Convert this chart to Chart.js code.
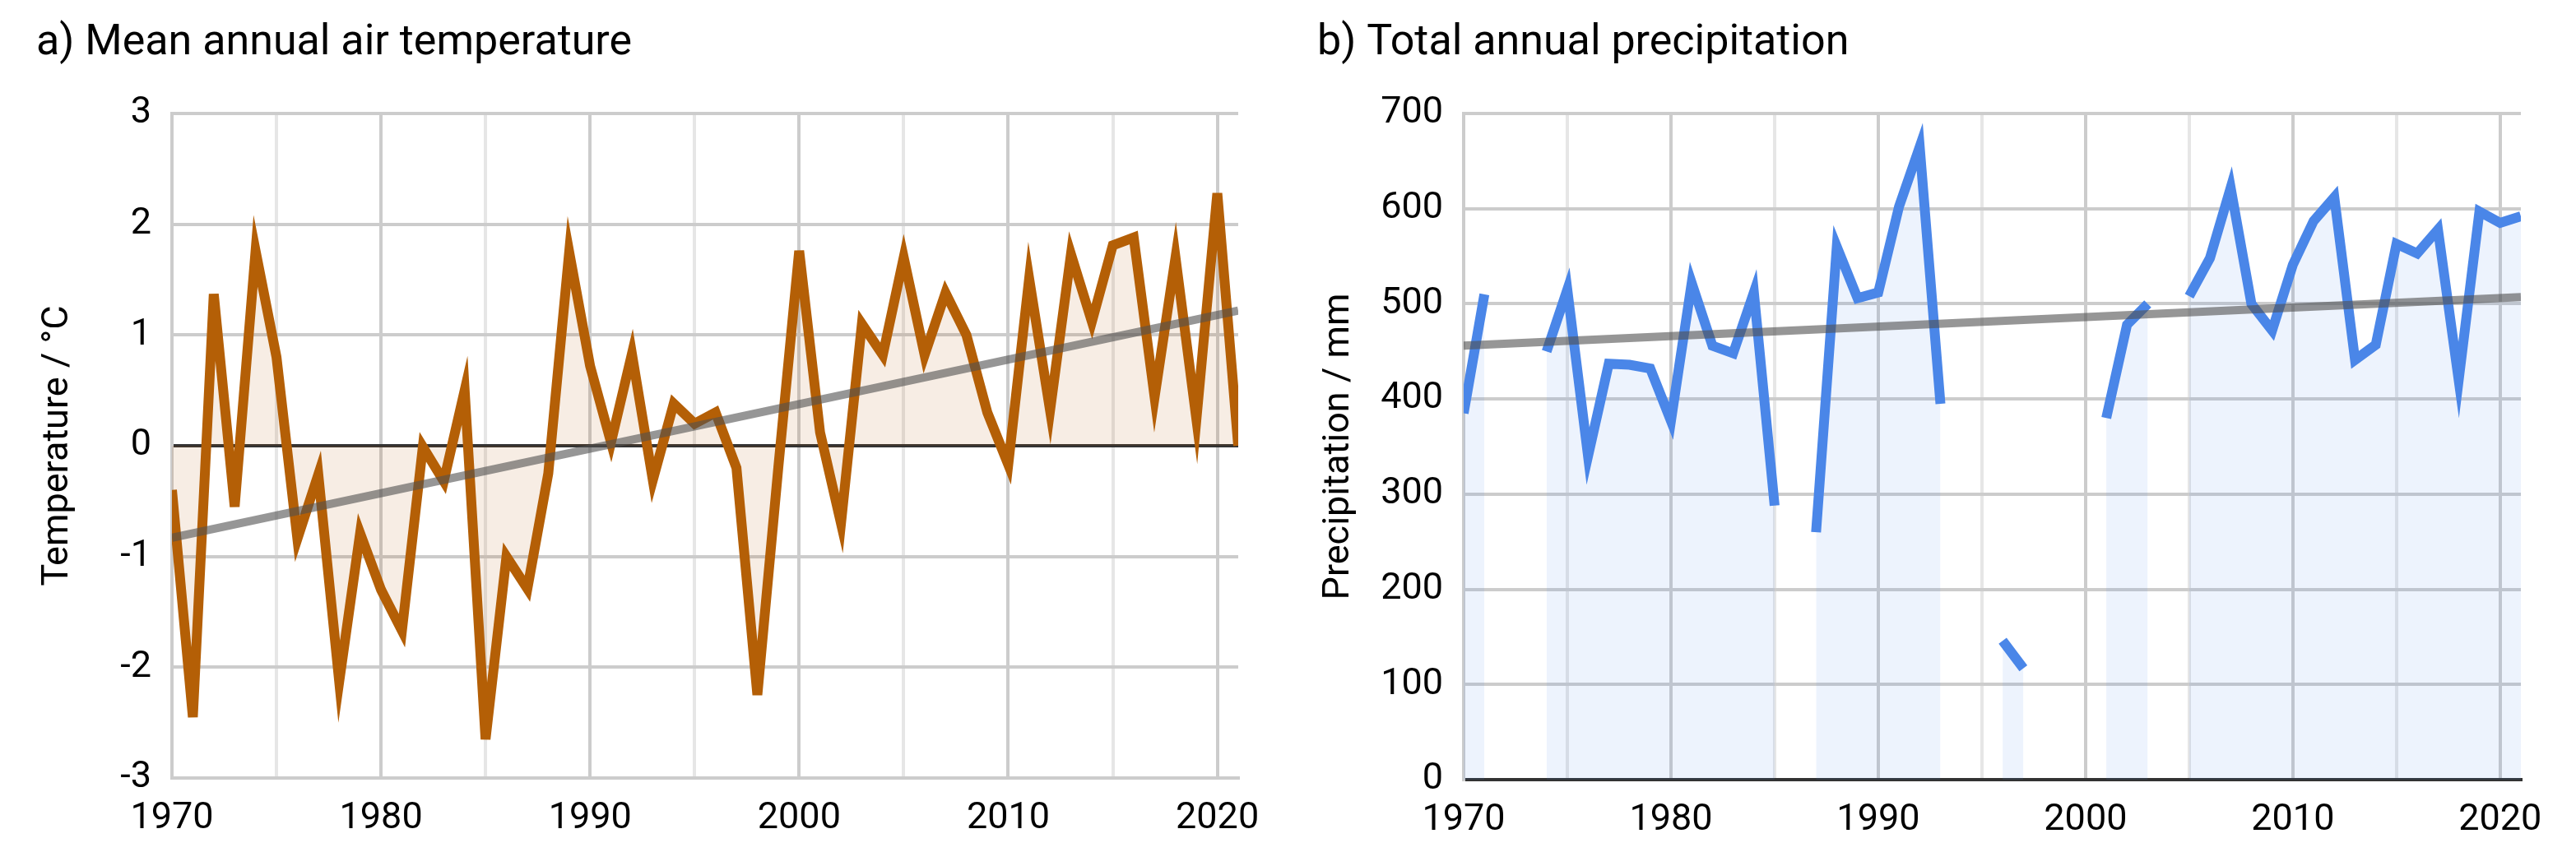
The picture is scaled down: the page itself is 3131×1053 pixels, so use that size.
<!DOCTYPE html>
<html>
<head>
<meta charset="utf-8">
<title>Temperature and precipitation</title>
<script src="https://cdn.jsdelivr.net/npm/chart.js@4.4.1/dist/chart.umd.min.js"></script>
<style>
    html, body { margin: 0; padding: 0; background: #ffffff; }
    body { width: 3131px; height: 1053px; position: relative; overflow: hidden; }
    #chart_temp { position: absolute; left: 0; top: 0; }
    #chart_prec { position: absolute; left: 1565px; top: 0; }
</style>
</head>
<body>
<canvas id="chart_temp" width="1565" height="1053"></canvas>
<canvas id="chart_prec" width="1566" height="1053"></canvas>
<script>
// years shared by both panels
let years = [1970, 1971, 1972, 1973, 1974, 1975, 1976, 1977, 1978, 1979,
             1980, 1981, 1982, 1983, 1984, 1985, 1986, 1987, 1988, 1989,
             1990, 1991, 1992, 1993, 1994, 1995, 1996, 1997, 1998, 1999,
             2000, 2001, 2002, 2003, 2004, 2005, 2006, 2007, 2008, 2009,
             2010, 2011, 2012, 2013, 2014, 2015, 2016, 2017, 2018, 2019,
             2020, 2021];

// a) mean annual air temperature, °C
let temp_values = [-0.4, -2.45, 1.37, -0.55, 1.76, 0.8, -0.84, -0.26, -2.13, -0.79,
                   -1.3, -1.67, -0.01, -0.32, 0.5, -2.65, -1.0, -1.29, -0.25, 1.75,
                   0.72, 0.03, 0.83, -0.31, 0.38, 0.2, 0.3, -0.2, -2.25, -0.2,
                   1.76, 0.12, -0.7, 1.1, 0.82, 1.7, 0.82, 1.38, 1.0, 0.3,
                   -0.17, 1.51, 0.32, 1.73, 1.12, 1.81, 1.88, 0.44, 1.7, 0.24,
                   2.28, 0.0];
let temp_trend_years = [1970, 2021];
let temp_trend_values = [-0.83, 1.22];
let temp_ticks = [-3, -2, -1, 0, 1, 2, 3];

// b) total annual precipitation, mm (null = missing year)
let prec_values = [385, 510, null, null, 450, 515, 340, 437, 436, 432,
                   377, 522, 456, 448, 512, 288, null, 260, 560, 506,
                   512, 602, 665, 395, null, null, 146, 117, null, null,
                   null, 380, 478, 500, null, 508, 548, 622, 500, 472,
                   541, 587, 612, 441, 457, 563, 553, 578, 420, 597,
                   585, 592];
let prec_trend_years = [1970, 2021];
let prec_trend_values = [456, 507];
let prec_ticks = [0, 100, 200, 300, 400, 500, 600, 700];

let font_family = 'Roboto, "Liberation Sans", sans-serif';

function toPoints(xs, ys) {
    return xs.map(function (x, i) { return { x: x, y: ys[i] }; });
}

// sharper spikes fall back to a bevel like in the original
let miter_plugin = {
    id: 'miter_limit',
    beforeDatasetsDraw: function (chart) { chart.ctx.miterLimit = 9.3; },
    afterDatasetsDraw: function (chart) { chart.ctx.miterLimit = 10; }
};

function buildChart(canvas_id, cfg) {
    let ctx = document.getElementById(canvas_id).getContext('2d');
    return new Chart(ctx, {
        type: 'line',
        plugins: [miter_plugin],
        data: {
            datasets: [
                {
                    // trend line goes first so it is painted on top
                    data: toPoints(cfg.trend_years, cfg.trend_values),
                    borderColor: 'rgba(80, 80, 80, 0.6)',
                    borderWidth: 10,
                    pointRadius: 0,
                    fill: false
                },
                {
                    data: toPoints(years, cfg.values),
                    borderColor: cfg.color,
                    backgroundColor: cfg.fill_color,
                    borderWidth: 12,
                    pointRadius: 0,
                    tension: 0,
                    spanGaps: false,
                    fill: 'origin'
                }
            ]
        },
        options: {
            responsive: false,
            animation: false,
            devicePixelRatio: 1,
            events: [],
            layout: {
                padding: { left: cfg.pad_left, right: cfg.pad_right, top: 22, bottom: 0 }
            },
            plugins: {
                legend: { display: false },
                tooltip: { enabled: false },
                title: {
                    display: true,
                    text: cfg.title,
                    align: 'start',
                    color: '#000000',
                    font: { family: font_family, size: 52, weight: 'normal' },
                    padding: { top: 0, bottom: 53.6 }
                }
            },
            scales: {
                x: {
                    type: 'linear',
                    min: 1970,
                    max: 2021,
                    afterFit: function (scale) { scale.height = cfg.x_height; },
                    ticks: {
                        stepSize: 5,
                        includeBounds: false,
                        autoSkip: false,
                        maxRotation: 0,
                        padding: 23,
                        color: '#000000',
                        font: { family: font_family, size: 45 },
                        callback: function (v) { return v % 10 === 0 ? String(v) : ''; }
                    },
                    grid: {
                        drawTicks: false,
                        lineWidth: 4,
                        color: function (c) {
                            return (c.tick && c.tick.value % 10 === 0) ? '#cccccc' : '#e6e6e6';
                        }
                    },
                    border: { display: true, color: cfg.base_color, width: 4 }
                },
                y: {
                    min: cfg.y_ticks[0],
                    max: cfg.y_ticks[cfg.y_ticks.length - 1],
                    afterFit: function (scale) { scale.width = cfg.y_width; },
                    afterBuildTicks: function (scale) {
                        scale.ticks = cfg.y_ticks.map(function (v) { return { value: v }; });
                    },
                    ticks: {
                        padding: 25,
                        color: '#000000',
                        font: { family: font_family, size: 45 }
                    },
                    title: {
                        display: true,
                        text: cfg.y_title,
                        color: '#000000',
                        font: { family: font_family, size: 45 },
                        padding: { top: 0, bottom: 0 }
                    },
                    grid: {
                        drawTicks: false,
                        lineWidth: 4,
                        color: function (c) {
                            return (c.tick && c.tick.value === 0) ? '#333333' : '#cccccc';
                        }
                    },
                    border: { display: true, color: '#cccccc', width: 4 }
                }
            }
        }
    });
}

let chart_temp = buildChart('chart_temp', {
    title: 'a) Mean annual air temperature',
    y_title: 'Temperature / °C',
    values: temp_values,
    trend_years: temp_trend_years,
    trend_values: temp_trend_values,
    y_ticks: temp_ticks,
    color: '#b45f06',
    fill_color: 'rgba(180, 95, 6, 0.11)',
    base_color: '#cccccc',
    pad_left: 44,
    pad_right: 60,
    y_width: 165,
    x_height: 107
});

let chart_prec = buildChart('chart_prec', {
    title: 'b) Total annual precipitation',
    y_title: 'Precipitation / mm',
    values: prec_values,
    trend_years: prec_trend_years,
    trend_values: prec_trend_values,
    y_ticks: prec_ticks,
    color: '#4a86e8',
    fill_color: 'rgba(74, 134, 232, 0.1)',
    base_color: '#333333',
    pad_left: 36,
    pad_right: 67,
    y_width: 178,
    x_height: 105
});
</script>
</body>
</html>
